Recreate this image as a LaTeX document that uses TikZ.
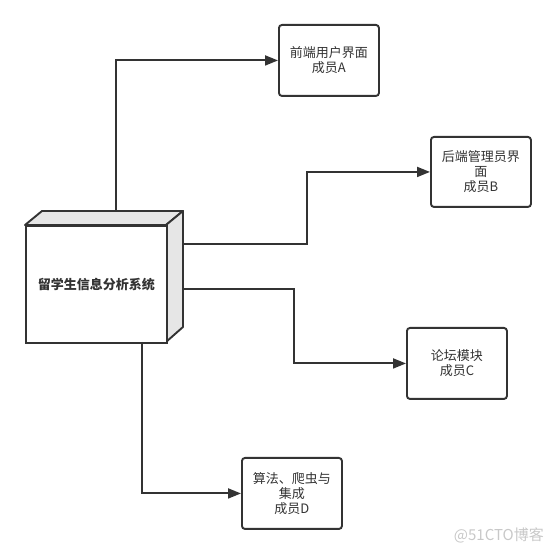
\documentclass[tikz,border=0pt]{standalone}
\usepackage{fontspec}
\newfontfamily\cjk{Noto Sans CJK SC}
\usetikzlibrary{arrows.meta}
\definecolor{ink}{HTML}{333333}
\definecolor{side}{HTML}{E6E6E6}
\definecolor{wm}{HTML}{C8C8C8}
\tikzset{
  x=1pt,y=-1pt,
  membox/.style={draw=ink,line width=1.9pt,rounded corners=3pt,fill=white,
    minimum width=100pt,minimum height=71pt,inner sep=0pt,align=center,
    text=ink,font=\cjk\fontsize{13}{15}\selectfont,anchor=north west},
  conn/.style={draw=ink,line width=1.9pt,-{Triangle[length=13pt,width=10pt]}},
}
\begin{document}
\begin{tikzpicture}
\useasboundingbox (0,0) rectangle (555,553);
% main 3D box
\fill[side,draw=ink,line width=1.9pt,line join=round] (25,225) -- (42,211) -- (183,211) -- (166,225) -- cycle;
\fill[side,draw=ink,line width=1.9pt,line join=round] (166,225) -- (183,211) -- (183,327) -- (166,342) -- cycle;
\node[draw=ink,line width=1.9pt,fill=white,minimum width=141pt,minimum height=117pt,inner sep=0pt,anchor=north west,
  text=ink,font=\cjk\bfseries\fontsize{13}{15}\selectfont] (sys) at (25,225) {留学生信息分析系统};
\coordinate (topA) at (116,211);
\coordinate (sideB) at (183,244);
\coordinate (sideC) at (183,289);
\coordinate (botD) at (142,342);
% member boxes
\node[membox] (A) at (278,24) {前端用户界面\\成员A};
\node[membox,minimum height=70pt] (B) at (430,136) {后端管理员界\\面\\成员B};
\node[membox] (C) at (406,327) {论坛模块\\成员C};
\node[membox] (D) at (241,457) {算法、爬虫与\\集成\\成员D};
% connectors
\draw[conn] (topA) |- (A.west);
\draw[conn] (sideB) -- (307,244) |- (B.west);
\draw[conn] (sideC) -- (294,289) |- (C.west);
\draw[conn] (botD) |- (D.west);
% watermark
\node[text=wm,font=\cjk\fontsize{15}{17}\selectfont,inner sep=0pt,anchor=east] (wmk) at (544,535) {@51CTO博客};
\end{tikzpicture}
\end{document}
